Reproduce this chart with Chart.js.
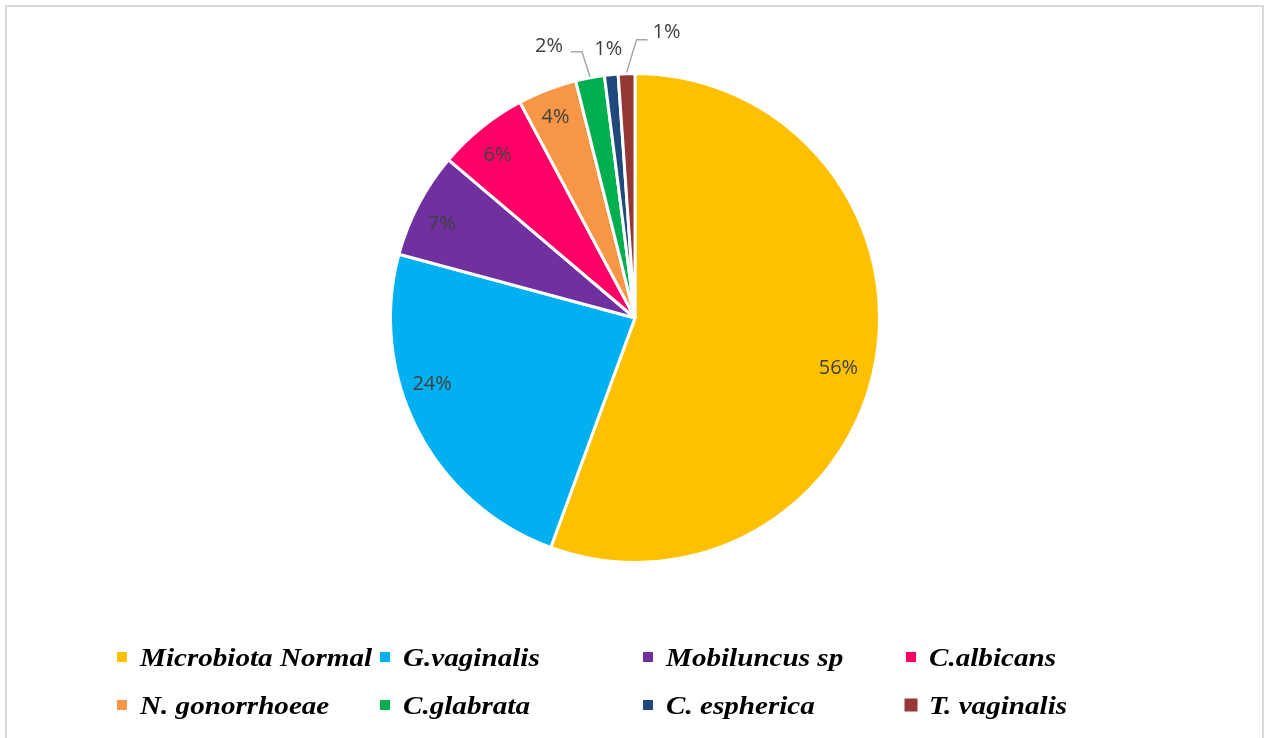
<!DOCTYPE html>
<html>
<head>
<meta charset="utf-8">
<script src="https://cdn.jsdelivr.net/npm/chart.js@4.4.0/dist/chart.umd.min.js"></script>
<style>
  html, body { margin: 0; padding: 0; background: #fff; }
  #wrap { position: relative; width: 1265px; height: 738px; }
</style>
</head>
<body>
<div id="wrap"><canvas id="pie-chart"></canvas></div>
<script>
// chart data
const categories = ['Microbiota Normal', 'G.vaginalis', 'Mobiluncus sp', 'C.albicans',
                    'N. gonorrhoeae', 'C.glabrata', 'C. espherica', 'T. vaginalis']
const values = [55.6, 23.6, 7.0, 6.0, 3.9, 1.9, 0.9, 1.1]
const colors = ['#FFC000', '#00B0F0', '#7030A0', '#FF0066',
                '#F79646', '#00B050', '#1F497D', '#953735']

const total = values.reduce((a, b) => a + b, 0)

// label placement per slice: inside ones sit at a radius fraction (nudged a bit),
// the small ones sit outside, some with a leader line
const labelPlacement = [
    { r: 0.87, dx: -6, dy: 13 },
    { r: 0.87, dx: -14, dy: -31 },
    { r: 0.87, dx: -5, dy: 5 },
    { r: 0.87, dx: -4, dy: 3 },
    { r: 0.87, dx: -3, dy: -2 },
    { out: true, dx: -41, dy: -31, line: 'left' },
    { out: true, dx: -3, dy: -25, line: null },
    { out: true, dx: 40, dy: -41, line: 'right' }
]

const frame = {
    id: 'frame',
    beforeDraw(chart) {
        const ctx = chart.ctx
        ctx.save()
        ctx.strokeStyle = '#d9d9d9'
        ctx.lineWidth = 2
        ctx.strokeRect(6, 6, 1257, 760)
        ctx.restore()
    }
}

const pctLabels = {
    id: 'pctLabels',
    afterDatasetsDraw(chart) {
        const ctx = chart.ctx
        const arcs = chart.getDatasetMeta(0).data
        ctx.save()
        ctx.font = '20px "Open Sans", sans-serif'
        ctx.fillStyle = '#404040'
        ctx.textAlign = 'center'
        ctx.textBaseline = 'middle'
        arcs.forEach((arc, i) => {
            const { x, y, startAngle, endAngle, outerRadius } = arc.getProps(['x', 'y', 'startAngle', 'endAngle', 'outerRadius'], true)
            const mid = (startAngle + endAngle) / 2
            const text = Math.round(values[i] / total * 100) + '%'
            const p = labelPlacement[i]
            if (!p.out) {
                ctx.fillText(text, x + Math.cos(mid) * outerRadius * p.r + p.dx, y + Math.sin(mid) * outerRadius * p.r + p.dy)
                return
            }
            const ex = x + Math.cos(mid) * outerRadius
            const ey = y + Math.sin(mid) * outerRadius
            const lx = ex + p.dx
            const ly = ey + p.dy
            if (p.line) {
                ctx.strokeStyle = '#a6a6a6'
                ctx.lineWidth = 1.5
                ctx.beginPath()
                if (p.line === 'left') {
                    ctx.moveTo(lx + 22, ly + 5)
                    ctx.lineTo(lx + 33, ly + 5)
                } else {
                    ctx.moveTo(lx - 19, ly + 7)
                    ctx.lineTo(lx - 30, ly + 7)
                }
                ctx.lineTo(ex, ey - 1)
                ctx.stroke()
            }
            ctx.fillText(text, lx, ly)
        })
        ctx.restore()
    }
}

const gridLegend = {
    id: 'gridLegend',
    afterDraw(chart) {
        const ctx = chart.ctx
        const colX = [122, 385, 648, 911]
        const rowY = [657, 705]
        ctx.save()
        ctx.font = 'italic bold 26px "Liberation Serif", "Times New Roman", serif'
        ctx.textBaseline = 'alphabetic'
        categories.forEach((name, i) => {
            const cx = colX[i % 4]
            const cy = rowY[Math.floor(i / 4)]
            const s = i === 7 ? 13 : 10
            ctx.fillStyle = colors[i]
            ctx.fillRect(cx - s / 2, cy - s / 2, s, s)
            ctx.save()
            ctx.translate(cx + 18, cy + 9)
            ctx.scale(1.12, 1)
            ctx.fillStyle = '#000'
            ctx.fillText(name, 0, 0)
            ctx.restore()
        })
        ctx.restore()
    }
}

const pieChart = new Chart(document.querySelector('#pie-chart').getContext('2d'), {
    type: 'pie',
    data: {
        labels: categories,
        datasets: [{
            data: values,
            backgroundColor: colors,
            borderColor: '#ffffff',
            borderWidth: 3
        }]
    },
    options: {
        responsive: true,
        maintainAspectRatio: false,
        animation: false,
        layout: { padding: { top: 72, bottom: 174, left: 10, right: 5 } },
        plugins: {
            legend: { display: false },
            tooltip: { enabled: false }
        }
    },
    plugins: [frame, pctLabels, gridLegend]
});
</script>
</body>
</html>
